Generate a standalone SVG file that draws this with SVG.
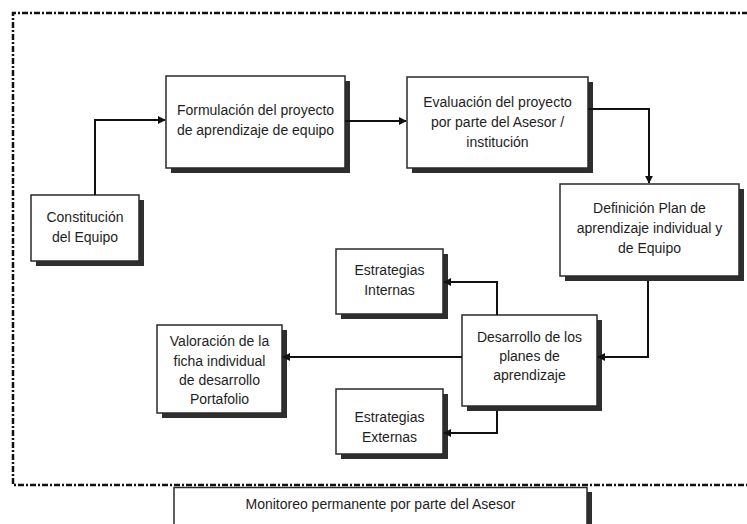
<svg xmlns="http://www.w3.org/2000/svg" width="747" height="524" viewBox="0 0 747 524">
  <style>
    .box { fill: #ffffff; stroke: #2a2a2a; stroke-width: 1.5; }
    .shadow { fill: #2e2e2e; }
    .label { font-family: "Liberation Sans", Arial, sans-serif; font-size: 14px; fill: #1e1e1e; text-anchor: middle; }
    .wire { fill: none; stroke: #111111; stroke-width: 2; }
    .frame { fill: none; stroke: #111111; stroke-width: 2.5; stroke-dasharray: 6 2 2 2; }
  </style>
  <defs>
    <marker id="arrow" viewBox="0 0 10 10" refX="9" refY="5" markerWidth="4" markerHeight="4" orient="auto" markerUnits="strokeWidth">
      <path d="M0,0 L10,5 L0,10 Z" fill="#111111"/>
    </marker>
  </defs>

  <rect width="747" height="524" fill="#ffffff"/>

  <!-- dash-dot enclosure -->
  <path class="frame" d="M760,13 L13,13 L13,485 L760,485"/>

  <!-- monitoring bar below the enclosure -->
  <g id="monitoreo">
    <rect class="shadow" x="179" y="492" width="413" height="40"/>
    <rect class="box" x="174" y="487.5" width="413" height="40"/>
    <text class="label" x="380.5" y="509" font-size="13.5">Monitoreo permanente por parte del Asesor</text>
  </g>

  <g id="constitucion">
    <rect class="shadow" x="36" y="200" width="108" height="66"/>
    <rect class="box" x="31" y="195" width="108" height="66"/>
    <text class="label" x="85" y="222">Constitución</text>
    <text class="label" x="85" y="242">del Equipo</text>
  </g>

  <g id="formulacion">
    <rect class="shadow" x="171" y="81" width="179" height="92"/>
    <rect class="box" x="166" y="76" width="179" height="92"/>
    <text class="label" x="255.5" y="115">Formulación del proyecto</text>
    <text class="label" x="255.5" y="135">de aprendizaje de equipo</text>
  </g>

  <g id="evaluacion">
    <rect class="shadow" x="412" y="82" width="181" height="91"/>
    <rect class="box" x="407" y="77" width="181" height="91"/>
    <text class="label" x="497.5" y="107">Evaluación del proyecto</text>
    <text class="label" x="497.5" y="127">por parte del Asesor /</text>
    <text class="label" x="497.5" y="147">institución</text>
  </g>

  <g id="definicion">
    <rect class="shadow" x="565" y="189" width="179" height="92"/>
    <rect class="box" x="560" y="184" width="179" height="92"/>
    <text class="label" x="649.5" y="213">Definición Plan de</text>
    <text class="label" x="649.5" y="233">aprendizaje individual y</text>
    <text class="label" x="649.5" y="253">de Equipo</text>
  </g>

  <g id="desarrollo">
    <rect class="shadow" x="467" y="320" width="135" height="91"/>
    <rect class="box" x="462" y="315" width="135" height="91"/>
    <text class="label" x="529.5" y="342">Desarrollo de los</text>
    <text class="label" x="529.5" y="361">planes de</text>
    <text class="label" x="529.5" y="380">aprendizaje</text>
  </g>

  <g id="internas">
    <rect class="shadow" x="341" y="254" width="107" height="65"/>
    <rect class="box" x="336" y="249" width="107" height="65"/>
    <text class="label" x="389.5" y="275">Estrategias</text>
    <text class="label" x="389.5" y="295">Internas</text>
  </g>

  <g id="externas">
    <rect class="shadow" x="341" y="394" width="107" height="65"/>
    <rect class="box" x="336" y="389" width="107" height="65"/>
    <text class="label" x="389.5" y="422">Estrategias</text>
    <text class="label" x="389.5" y="442">Externas</text>
  </g>

  <g id="valoracion">
    <rect class="shadow" x="162" y="330" width="125" height="88"/>
    <rect class="box" x="157" y="325" width="125" height="88"/>
    <text class="label" x="219.5" y="346">Valoración de la</text>
    <text class="label" x="219.5" y="366">ficha individual</text>
    <text class="label" x="219.5" y="385">de desarrollo</text>
    <text class="label" x="219.5" y="404">Portafolio</text>
  </g>

  <!-- connectors -->
  <g id="connectors">
    <path class="wire" d="M95,195 L95,120 L165,120" marker-end="url(#arrow)"/>
    <path class="wire" d="M345,121 L406,121" stroke-width="3" marker-end="url(#arrow)"/>
    <path class="wire" d="M588,109 L649,109 L649,183" marker-end="url(#arrow)"/>
    <path class="wire" d="M648,281 L648,357 L598,357" marker-end="url(#arrow)"/>
    <path class="wire" d="M497,315 L497,282 L444,282" marker-end="url(#arrow)"/>
    <path class="wire" d="M497,411 L497,433 L444,433" marker-end="url(#arrow)"/>
    <path class="wire" d="M462,357 L283,357" marker-end="url(#arrow)"/>
  </g>
</svg>
